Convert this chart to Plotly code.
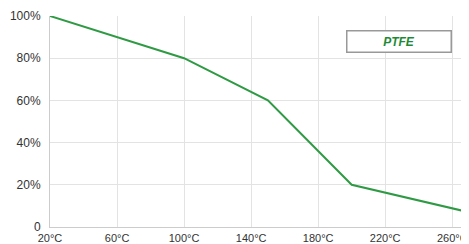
import plotly.graph_objects as go

temps = [20, 100, 150, 200, 270]
strength = [100, 80, 60, 20, 7]
x_ticks = [20, 60, 100, 140, 180, 220, 260]
x_labels = ["20°C", "60°C", "100°C", "140°C", "180°C", "220°C", "260°C"]
y_ticks = [0, 20, 40, 60, 80, 100]
y_labels = ["0", "20%", "40%", "60%", "80%", "100%"]
legend_name = "PTFE"

fig = go.Figure()
fig.add_trace(go.Scatter(x=temps, y=strength, mode="lines",
                         line=dict(color="#2f9a44", width=2), name=legend_name,
                         showlegend=False))
fig.add_annotation(text="<b><i>" + legend_name + "</i></b>", xref="paper", yref="paper",
                   x=0.833, y=0.877, xanchor="center", yanchor="middle",
                   showarrow=False, bordercolor="#999999", borderwidth=1.5,
                   bgcolor="white", width=101, height=18,
                   font=dict(color="#1e8a36", size=12, family="Liberation Sans"))
fig.update_layout(
    width=461, height=236,
    margin=dict(l=42, r=0, t=8, b=17, autoexpand=False),
    paper_bgcolor="white", plot_bgcolor="white",
    font=dict(family="Liberation Sans, Arial", size=11, color="#333333"),
)
fig.update_xaxes(range=[20, 270], tickvals=x_ticks, ticktext=x_labels,
                 showgrid=True, gridcolor="#e3e3e3", gridwidth=1,
                 showline=True, linecolor="#cccccc", zeroline=False,
                 ticks="", tickfont=dict(size=11), automargin=False,
                 ticklabelstandoff=1)
fig.update_yaxes(range=[0, 100], tickvals=y_ticks, ticktext=y_labels,
                 showgrid=True, gridcolor="#e3e3e3", gridwidth=1,
                 showline=True, linecolor="#cccccc", zeroline=False,
                 ticks="", tickfont=dict(size=12), automargin=False,
                 ticklabelstandoff=6)
fig.write_html("out.html")
